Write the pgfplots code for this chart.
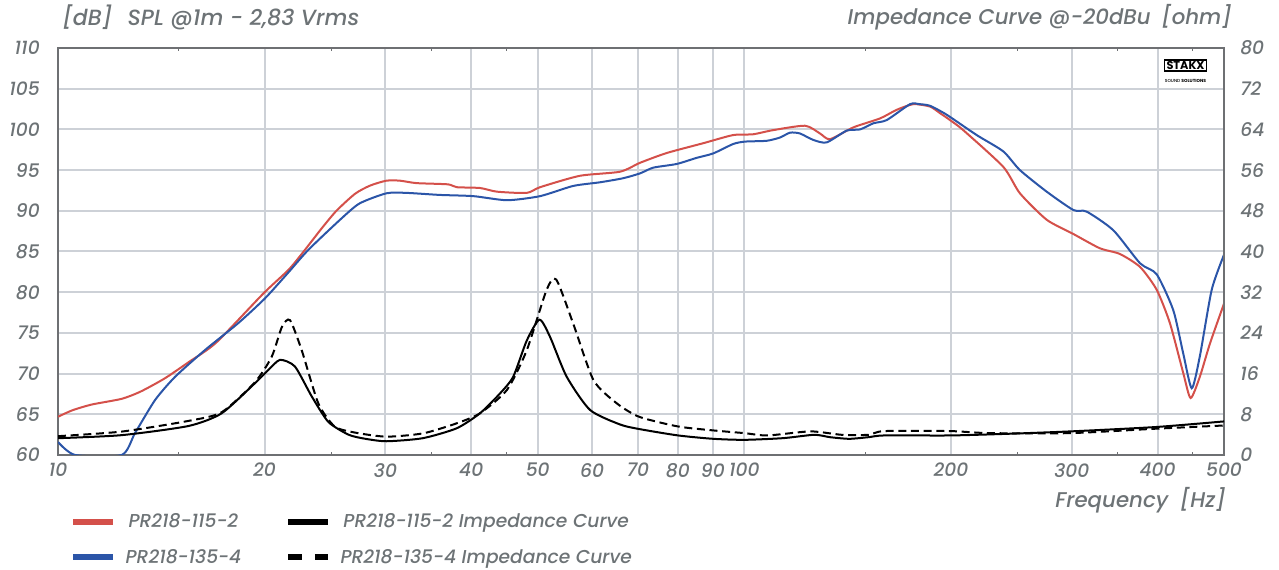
\documentclass[border=0pt]{standalone}
\usepackage{fontspec}
\setmainfont{Poppins}[UprightFont=* Medium, ItalicFont=* Medium Italic, BoldFont=* Bold]
\usepackage{pgfplots}
\pgfplotsset{compat=1.18}

\definecolor{splred}{HTML}{D4504A}
\definecolor{splblue}{HTML}{2B55A8}
\definecolor{txtgray}{HTML}{6D7376}
\definecolor{gridgray}{HTML}{CDD1D7}
\definecolor{framegray}{HTML}{6E7073}

\newcommand\lblfont{\itshape\fontsize{14}{16}\selectfont}
\newcommand\ttlfont{\itshape\fontsize{16}{18}\selectfont}

\pgfplotsset{
  thicklegend/.style={legend image code/.code={\draw[##1, line width=4.5pt] (0pt,0pt) -- (30pt,0pt);}},
  dashlegend/.style={legend image code/.code={\draw[##1, line width=4.5pt, dash pattern=on 10pt off 10pt] (0pt,0pt) -- (30pt,0pt);}},
}

\begin{document}
\begin{tikzpicture}
\path[use as bounding box] (0,0) rectangle (959.25pt,427.5pt);

% SPL, left axis
\begin{axis}[
  scale only axis, width=874.5pt, height=305.25pt,
  at={(43.5pt,86.25pt)}, anchor=south west,
  xmode=log, xmin=10, xmax=500,
  xtick={10,20,30,40,50,60,70,80,90,100,200,300,400,500},
  xticklabels={10,20,30,40,50,60,70,80,90,100,200,300,400,500},
  minor xtick={15,25,35,45,150,250,350,450},
  major tick length=0pt, minor tick length=2pt,
  minor tick style={framegray, line width=0.6pt},
  tick label style={font=\lblfont, text=txtgray, inner sep=0pt},
  /pgf/number format/assume math mode=true,
  axis line style={framegray, line width=1.5pt},
  ymin=60, ymax=110, ytick={60,65,...,110}, ytick pos=left,
  grid=major, major grid style={gridgray, line width=1.5pt},
  xticklabel style={anchor=north, yshift=-6pt},
  yticklabel style={anchor=east, xshift=-13.5pt},
]
\addplot[splred, line width=1.5pt, smooth, tension=0.4] coordinates {
(10,64.7) (10.5,65.5) (11.2,66.2) (12.38,66.9) (13.2,67.8) (14.3,69.4) (15.5,71.4) (17,73.8)
(19.9,79.8) (21.7,82.8) (22.9,85.2) (24.2,87.8) (25.45,90.0) (27.1,92.1) (28.5,93.1) (30.1,93.7) (31.5,93.7)
(33.3,93.4) (37,93.25) (38.1,92.9) (41.2,92.8) (43.6,92.35) (48.2,92.2) (50.4,92.9) (57.6,94.3)
(65.9,94.8) (70.5,95.9) (77.1,97.1) (87.1,98.3) (96.3,99.3) (103,99.4) (110,99.9) (122.6,100.45)
(128.9,99.5) (133.3,98.8) (144.2,100.25) (157.7,101.35) (166.7,102.4) (176.3,103.1) (186.5,102.8)
(192.8,102.0) (199.4,101.15) (208.5,99.9) (238.4,95.4) (252.1,92.15) (275.8,88.9) (301.6,87.15)
(329.6,85.4) (352.5,84.7) (377.3,83.1) (399,80.3) (417,76.2) (436,70.1) (447,67.0) (461,69.6)
(477,73.7) (500,78.6)
};
\addplot[splblue, line width=1.5pt, smooth, tension=0.4] coordinates {
(10,61.6) (10.59,60) (12.38,60) (12.95,62.7) (13.85,66.75) (14.81,69.6) (16.38,72.9) (18.31,76.2)
(20.03,79.25) (21.7,82.5) (23.16,85.2) (25.8,88.95) (27.5,90.9) (30.1,92.15) (32.2,92.2) (36,91.95)
(40.3,91.8) (45.1,91.3) (50.4,91.8) (56.3,93.05) (61.6,93.5) (66.6,94.0) (70.5,94.6) (73.7,95.3)
(79.7,95.75) (85.2,96.5) (90.1,97.05) (96.3,98.2) (100.2,98.5) (107.8,98.6) (112.7,99.0) (116.6,99.6)
(120.5,99.5) (126.1,98.7) (131.8,98.4) (141,99.85) (147.5,100.0) (154.2,100.75) (161.3,101.15)
(174.4,103.1) (180,103.1) (186.5,102.9) (197.2,101.8) (218.1,99.3) (238.4,97.3) (252.1,95.0)
(275.8,92.35) (301.6,90.1) (315.4,89.9) (345,87.6) (377.3,83.55) (399,82.2) (421.7,77.8) (436,72.5)
(448.7,68.2) (461,72.1) (479.8,80.3) (500,84.6)
};
\node[draw=black, line width=1pt, inner xsep=1.5pt, inner ysep=1pt, font=\bfseries\upshape\fontsize{8.5}{8.5}\selectfont, text=black]
  at (rel axis cs:0.967,0.957) {STAKX};
\node[font=\upshape\fontsize{3.3}{3.5}\selectfont, text=black] at (rel axis cs:0.967,0.92) {SOUND \textbf{SOLUTIONS}};
\end{axis}

% impedance, right axis
\begin{axis}[
  scale only axis, width=874.5pt, height=305.25pt,
  at={(43.5pt,86.25pt)}, anchor=south west,
  xmode=log, xmin=10, xmax=500,
  major tick length=0pt,
  tick label style={font=\lblfont, text=txtgray, inner sep=0pt},
  /pgf/number format/assume math mode=true,
  axis line style={framegray, line width=1.5pt},
  ymin=0, ymax=80, ytick={0,8,...,80},
  axis y line*=right, axis x line=none,
  yticklabel style={anchor=west, xshift=12pt},
  thicklegend,
  legend columns=2,
  legend style={at={(axis description cs:0,0)}, anchor=north west, xshift=9pt, yshift=-42pt,
    draw=none, fill=none, inner sep=0pt, row sep=10.5pt,
    font=\lblfont, text=txtgray,
    nodes={inner xsep=7pt},
    /tikz/every even column/.append style={column sep=26pt}},
]
\addlegendimage{splred}
\addlegendentry{PR218-115-2}
\addplot[black, line width=1.5pt, smooth, tension=0.4] coordinates {
(10,3.3) (12.38,3.9) (15.49,5.7) (17.32,8.2) (19.36,14.1) (20.25,16.7) (21.06,18.7) (22.14,17.4)
(23.43,11.5) (24.77,6.5) (26.5,4.0) (28,3.2) (30.1,2.7) (34,3.3) (38.1,5.25) (41.2,8.2) (44.06,12.1)
(46.06,15.4) (48.2,22.5) (50.3,26.6) (52.1,23.25) (55.1,15.4) (59.6,8.85) (65.9,6.0) (70.3,5.1)
(80.1,3.84) (90.1,3.18) (100,2.98) (113.9,3.31) (126.5,3.97) (133.3,3.5) (142.2,3.18) (151.7,3.5)
(159.9,3.84) (199.5,3.84) (242.7,4.17) (299,4.64) (398,5.5) (500,6.6)
};
\addlegendentry{PR218-115-2 Impedance Curve}
\addlegendimage{splblue}
\addlegendentry{PR218-135-4}
\addplot[black, line width=1.5pt, dash pattern=on 6pt off 3.5pt, smooth, tension=0.4, dashlegend]
  coordinates {
(10,3.7) (12.38,4.6) (15.49,6.7) (17.32,8.4) (19.36,14.3) (20.48,19.3) (21.2,25.2) (21.78,26.5)
(22.65,20.6) (23.95,10.15) (25.3,5.6) (27.1,4.4) (30.1,3.6) (34.06,4.26) (38.1,6.23) (41.2,8.2)
(45.1,12.8) (48.2,20.6) (51.5,32.4) (53.2,34.5) (56.3,25.9) (60.3,14.7) (65.2,10.15) (70.3,7.5)
(80.1,5.6) (90.1,4.83) (100,4.3) (108.1,3.84) (124.9,4.64) (138.6,3.97) (151.7,3.97) (159.9,4.7)
(199.5,4.7) (227.3,4.3) (299,4.3) (398,5.17) (500,5.8)
};
\addlegendentry{PR218-135-4 Impedance Curve}
\end{axis}

\node[anchor=west, inner sep=0pt, font=\itshape\fontsize{16.5}{18}\selectfont, text=txtgray] at (46.5pt,414.75pt) {[dB]\hspace{0.7em}SPL @1m - 2,83 Vrms};
\node[anchor=east, inner sep=0pt, font=\ttlfont, text=txtgray] at (924pt,414.75pt) {Impedance Curve @-20dBu\hspace{0.5em}[ohm]};
\node[anchor=east, inner sep=0pt, font=\ttlfont, text=txtgray] at (919.5pt,52.5pt) {Frequency\hspace{0.55em}[Hz]};
\end{tikzpicture}
\end{document}
